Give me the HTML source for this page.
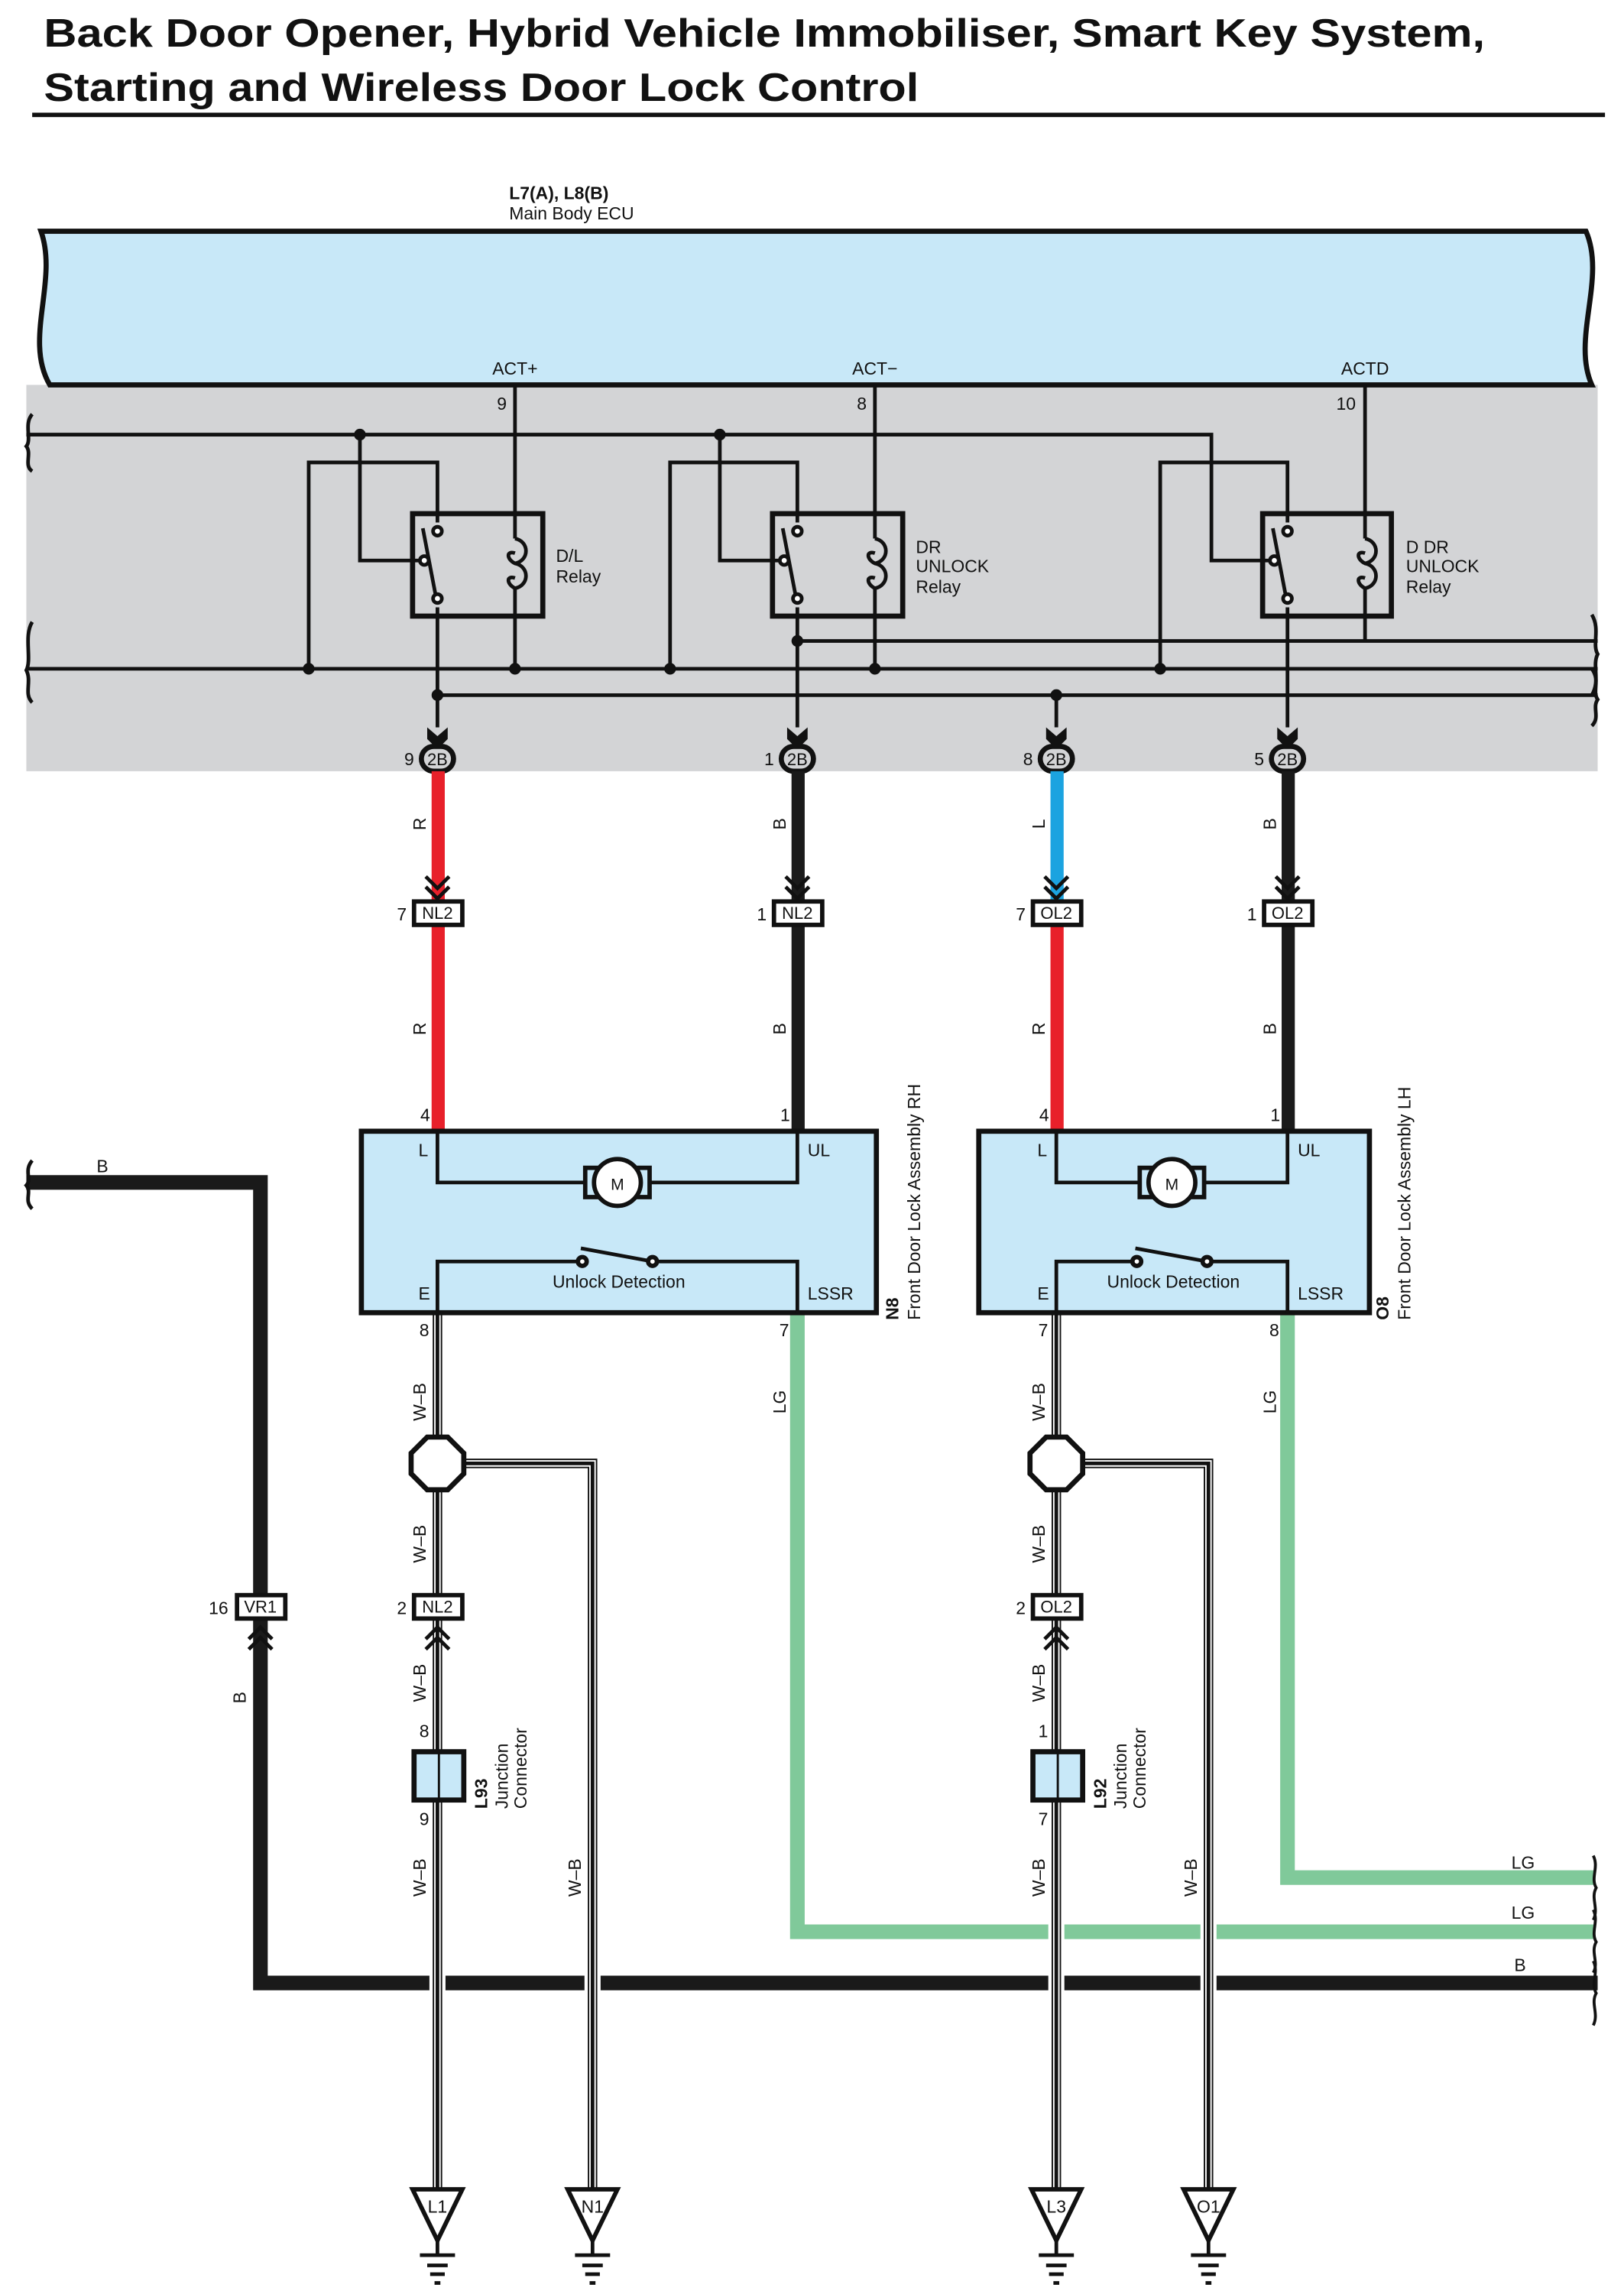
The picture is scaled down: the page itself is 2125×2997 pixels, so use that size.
<!DOCTYPE html>
<html><head><meta charset="utf-8"><style>
html,body{margin:0;padding:0;background:#fff;}
svg{display:block}
text{font-family:"Liberation Sans",sans-serif;fill:#111}
</style></head><body>
<svg width="2125" height="2997" viewBox="0 0 1110 1565.5" preserveAspectRatio="none" xmlns="http://www.w3.org/2000/svg">
<!-- Title -->
<text x="30" y="32" font-size="27" font-weight="bold" textLength="985" lengthAdjust="spacingAndGlyphs">Back Door Opener, Hybrid Vehicle Immobiliser, Smart Key System,</text>
<text x="30" y="69" font-size="27" font-weight="bold" textLength="598" lengthAdjust="spacingAndGlyphs">Starting and Wireless Door Lock Control</text>
<rect x="22" y="77" width="1075" height="3" fill="#111"/>

<!-- ECU -->
<text x="348" y="136" font-size="12" font-weight="bold">L7(A), L8(B)</text>
<text x="348" y="150" font-size="12">Main Body ECU</text>
<rect x="18" y="263" width="1074" height="264" fill="#d3d4d6"/>
<path d="M28,158 L1084,158 C1098,190 1074,232 1088,263 L34,263 C16,232 40,192 28,158 Z" fill="#c8e8f8" stroke="#111" stroke-width="3.5"/>
<text x="352" y="256" font-size="12" text-anchor="middle">ACT+</text>
<text x="598" y="256" font-size="12" text-anchor="middle">ACT−</text>
<text x="933" y="256" font-size="12" text-anchor="middle">ACTD</text>
<text x="343" y="280" font-size="12" text-anchor="middle">9</text>
<text x="589" y="280" font-size="12" text-anchor="middle">8</text>
<text x="920" y="280" font-size="12" text-anchor="middle">10</text>

<g stroke="#111" stroke-width="2.5" fill="none">
<path d="M18,297 H828 V383 H869"/>
<path d="M18,457 H1092"/>
<path d="M545,438 H1092"/>
<path d="M299,475 H1092"/>
<path d="M22,283 C16,290 22,300 18,305 C22,310 16,318 22,322"/>
<path d="M22,425 C16,435 22,450 18,458 C22,466 16,474 22,480"/>
<path d="M1088,420 C1094,430 1088,440 1092,447 C1088,455 1094,465 1088,475"/>
<path d="M1088,457 C1094,465 1088,472 1092,478 C1088,484 1094,490 1088,496"/>
<path d="M211,457 V316 H299 V357"/>
<path d="M246,297 V383 H287"/>
<path d="M352,263 V368"/><path d="M352,402 V457"/>
<path d="M299,415 V497"/>
<path d="M458,457 V316 H545 V357"/>
<path d="M492,297 V383 H533"/>
<path d="M598,263 V368"/><path d="M598,402 V457"/>
<path d="M545,415 V497"/>
<path d="M793,457 V316 H880 V357"/>
<path d="M933,263 V368"/><path d="M933,402 V438"/>
<path d="M880,415 V497"/>
<path d="M722,475 V497"/>
</g>
<g stroke="#111" stroke-width="3.5" fill="none">
<rect x="282" y="351" width="89" height="70"/>
<rect x="528" y="351" width="89" height="70"/>
<rect x="863" y="351" width="88" height="70"/>
</g>
<g stroke="#111" stroke-width="2.5" fill="none">
<path d="M289,361 L298,408"/><circle cx="299" cy="363" r="3" fill="#fff"/><circle cx="290" cy="383" r="3" fill="#fff"/><circle cx="299" cy="409" r="3" fill="#fff"/>
<path d="M535,361 L544,408"/><circle cx="545" cy="363" r="3" fill="#fff"/><circle cx="536" cy="383" r="3" fill="#fff"/><circle cx="545" cy="409" r="3" fill="#fff"/>
<path d="M870,361 L879,408"/><circle cx="880" cy="363" r="3" fill="#fff"/><circle cx="871" cy="383" r="3" fill="#fff"/><circle cx="880" cy="409" r="3" fill="#fff"/>
<path d="M352,368 C362,370 362,383 352,385 C346,382 346,376 352,378 M352,385 C362,387 362,400 352,402 C346,399 346,393 352,395"/>
<path d="M598,368 C608,370 608,383 598,385 C592,382 592,376 598,378 M598,385 C608,387 608,400 598,402 C592,399 592,393 598,395"/>
<path d="M933,368 C943,370 943,383 933,385 C927,382 927,376 933,378 M933,385 C943,387 943,400 933,402 C927,399 927,393 933,395"/>
</g>
<g font-size="12">
<text x="380" y="384">D/L</text><text x="380" y="398">Relay</text>
<text x="626" y="378">DR</text><text x="626" y="391">UNLOCK</text><text x="626" y="405">Relay</text>
<text x="961" y="378">D DR</text><text x="961" y="391">UNLOCK</text><text x="961" y="405">Relay</text>
</g>
<g fill="#111">
<circle cx="246" cy="297" r="4"/><circle cx="492" cy="297" r="4"/>
<circle cx="211" cy="457" r="4"/><circle cx="352" cy="457" r="4"/><circle cx="458" cy="457" r="4"/><circle cx="598" cy="457" r="4"/><circle cx="793" cy="457" r="4"/>
<circle cx="545" cy="438" r="4"/><circle cx="299" cy="475" r="4"/><circle cx="722" cy="475" r="4"/>
</g>
<g fill="#111">
<path d="M292,497 L299,503 L306,497 L306,505 L299,512 L292,505 Z"/>
<path d="M538,497 L545,503 L552,497 L552,505 L545,512 L538,505 Z"/>
<path d="M715,497 L722,503 L729,497 L729,505 L722,512 L715,505 Z"/>
<path d="M873,497 L880,503 L887,497 L887,505 L880,512 L873,505 Z"/>
</g>
<g stroke="#111" stroke-width="3.5" fill="#d3d4d6">
<rect x="288" y="510" width="22" height="17" rx="8.5"/>
<rect x="534" y="510" width="22" height="17" rx="8.5"/>
<rect x="711" y="510" width="22" height="17" rx="8.5"/>
<rect x="869" y="510" width="22" height="17" rx="8.5"/>
</g>
<g font-size="11.5" text-anchor="middle">
<text x="299" y="523">2B</text><text x="545" y="523">2B</text><text x="722" y="523">2B</text><text x="880" y="523">2B</text>
</g>
<g font-size="12" text-anchor="end">
<text x="283" y="523">9</text><text x="529" y="523">1</text><text x="706" y="523">8</text><text x="864" y="523">5</text>
</g>

<rect x="295" y="527" width="9" height="246" fill="#e8202a"/>
<rect x="541" y="527" width="9" height="246" fill="#1a1a1a"/>
<rect x="718" y="527" width="9" height="89" fill="#1ba3e0"/>
<rect x="718" y="632" width="9" height="141" fill="#e8202a"/>
<rect x="876" y="527" width="9" height="246" fill="#1a1a1a"/>
<g stroke="#111" stroke-width="2.5" fill="none">
<path d="M291,599 L299,607 L307,599 M291,606 L299,614 L307,606"/>
<path d="M537,599 L545,607 L553,599 M537,606 L545,614 L553,606"/>
<path d="M714,599 L722,607 L730,599 M714,606 L722,614 L730,606"/>
<path d="M872,599 L880,607 L888,599 M872,606 L880,614 L888,606"/>
</g>
<g stroke="#111" stroke-width="3" fill="#fff">
<rect x="283" y="616" width="33" height="16"/>
<rect x="529" y="616" width="33" height="16"/>
<rect x="706" y="616" width="33" height="16"/>
<rect x="864" y="616" width="33" height="16"/>
</g>
<g font-size="11.5" text-anchor="middle">
<text x="299" y="628">NL2</text><text x="545" y="628">NL2</text><text x="722" y="628">OL2</text><text x="880" y="628">OL2</text>
</g>
<g font-size="12" text-anchor="end">
<text x="278" y="629">7</text><text x="524" y="629">1</text><text x="701" y="629">7</text><text x="859" y="629">1</text>
<text x="294" y="766">4</text><text x="540" y="766">1</text><text x="717" y="766">4</text><text x="875" y="766">1</text>
</g>
<g font-size="12" text-anchor="middle">
<text transform="translate(291,563) rotate(-90)">R</text>
<text transform="translate(291,703) rotate(-90)">R</text>
<text transform="translate(537,563) rotate(-90)">B</text>
<text transform="translate(537,703) rotate(-90)">B</text>
<text transform="translate(714,563) rotate(-90)">L</text>
<text transform="translate(714,703) rotate(-90)">R</text>
<text transform="translate(872,563) rotate(-90)">B</text>
<text transform="translate(872,703) rotate(-90)">B</text>
</g>

<path d="M18,808 H178 V1355 H1092" stroke="#1a1a1a" stroke-width="10" fill="none"/>
<path d="M22,793 C16,800 22,806 18,810 C22,815 16,820 22,826" stroke="#111" stroke-width="2.5" fill="none"/>
<path d="M545,897 V1320 H1090" stroke="#80c99a" stroke-width="10" fill="none"/>
<path d="M880,897 V1283 H1090" stroke="#80c99a" stroke-width="10" fill="none"/>
<g stroke="#111" stroke-width="2" fill="none">
<path d="M1089,1268 C1093,1276 1087,1283 1091,1290 C1087,1297 1093,1304 1089,1312"/>
<path d="M1089,1305 C1093,1313 1087,1320 1091,1327 C1087,1334 1093,1341 1089,1348"/>
<path d="M1089,1340 C1093,1348 1087,1355 1091,1362 C1087,1369 1093,1376 1089,1384"/>
</g>
<g font-size="12">
<text x="66" y="801">B</text>
<text x="1033" y="1277">LG</text><text x="1033" y="1311">LG</text><text x="1035" y="1347">B</text>
<text transform="translate(168,1160) rotate(-90)" text-anchor="middle">B</text>
</g>

<g fill="none">
<path d="M299,897 V1500 M722,897 V1500 M317,1000 H405 V1500 M740,1000 H826 V1500" stroke="#fff" stroke-width="11"/>
<path d="M299,897 V1500 M722,897 V1500 M317,1000 H405 V1500 M740,1000 H826 V1500" stroke="#111" stroke-width="6.5"/>
<path d="M299,897 V1500 M722,897 V1500 M317,1000 H405 V1500 M740,1000 H826 V1500" stroke="#fff" stroke-width="4.5"/>
<path d="M299,897 V1500 M722,897 V1500 M317,1000 H405 V1500 M740,1000 H826 V1500" stroke="#111" stroke-width="2.5"/>
</g>

<g stroke="#111" stroke-width="3.5" fill="#c8e8f8">
<rect x="247" y="773" width="352" height="124"/>
<rect x="669" y="773" width="267" height="124"/>
</g>
<g stroke="#111" stroke-width="2.5" fill="none">
<path d="M299,773 V808 H400 M444,808 H545 V773"/>
<path d="M299,897 V862 H395 M449,862 H545 V897"/>
<path d="M397,853 L446,862"/>
<path d="M722,773 V808 H779 M823,808 H880 V773"/>
<path d="M722,897 V862 H774 M828,862 H880 V897"/>
<path d="M776,853 L825,862"/>
</g>
<g stroke="#111" stroke-width="3" fill="#fff">
<rect x="400" y="798" width="44" height="20" fill="#c8e8f8"/>
<circle cx="422" cy="808" r="16"/>
<circle cx="398" cy="862" r="3"/><circle cx="446" cy="862" r="3"/>
<rect x="779" y="798" width="44" height="20" fill="#c8e8f8"/>
<circle cx="801" cy="808" r="16"/>
<circle cx="777" cy="862" r="3"/><circle cx="825" cy="862" r="3"/>
</g>
<g font-size="12">
<text x="422" y="813" text-anchor="middle" font-size="11">M</text>
<text x="801" y="813" text-anchor="middle" font-size="11">M</text>
<text x="286" y="790">L</text><text x="552" y="790">UL</text><text x="286" y="888">E</text><text x="552" y="888">LSSR</text>
<text x="709" y="790">L</text><text x="887" y="790">UL</text><text x="709" y="888">E</text><text x="887" y="888">LSSR</text>
<text x="423" y="880" text-anchor="middle">Unlock Detection</text>
<text x="802" y="880" text-anchor="middle">Unlock Detection</text>
<text x="290" y="913" text-anchor="middle">8</text><text x="536" y="913" text-anchor="middle">7</text>
<text x="713" y="913" text-anchor="middle">7</text><text x="871" y="913" text-anchor="middle">8</text>
<text transform="translate(614,902) rotate(-90)" font-weight="bold">N8</text>
<text transform="translate(629,902) rotate(-90)">Front Door Lock Assembly RH</text>
<text transform="translate(949,902) rotate(-90)" font-weight="bold">O8</text>
<text transform="translate(964,902) rotate(-90)">Front Door Lock Assembly LH</text>
<text transform="translate(537,958) rotate(-90)" text-anchor="middle">LG</text>
<text transform="translate(872,958) rotate(-90)" text-anchor="middle">LG</text>
</g>
<g font-size="12" text-anchor="middle">
<text transform="translate(291,958) rotate(-90)">W–B</text>
<text transform="translate(291,1055) rotate(-90)">W–B</text>
<text transform="translate(291,1150) rotate(-90)">W–B</text>
<text transform="translate(291,1283) rotate(-90)">W–B</text>
<text transform="translate(397,1283) rotate(-90)">W–B</text>
<text transform="translate(714,958) rotate(-90)">W–B</text>
<text transform="translate(714,1055) rotate(-90)">W–B</text>
<text transform="translate(714,1150) rotate(-90)">W–B</text>
<text transform="translate(714,1283) rotate(-90)">W–B</text>
<text transform="translate(818,1283) rotate(-90)">W–B</text>
</g>
<g stroke="#111" stroke-width="3.5" fill="#fff">
<polygon points="292,982 306,982 317,993 317,1007 306,1018 292,1018 281,1007 281,993"/>
<polygon points="715,982 729,982 740,993 740,1007 729,1018 715,1018 704,1007 704,993"/>
</g>
<g stroke="#111" stroke-width="2.5" fill="none">
<path d="M170,1120 L178,1112 L186,1120 M170,1127 L178,1119 L186,1127"/>
<path d="M291,1120 L299,1112 L307,1120 M291,1127 L299,1119 L307,1127"/>
<path d="M714,1120 L722,1112 L730,1120 M714,1127 L722,1119 L730,1127"/>
</g>
<g stroke="#111" stroke-width="3" fill="#fff">
<rect x="162" y="1090" width="33" height="16"/>
<rect x="283" y="1090" width="33" height="16"/>
<rect x="706" y="1090" width="33" height="16"/>
</g>
<g font-size="11.5" text-anchor="middle">
<text x="178" y="1102">VR1</text><text x="299" y="1102">NL2</text><text x="722" y="1102">OL2</text>
</g>
<g font-size="12" text-anchor="end">
<text x="156" y="1103">16</text><text x="278" y="1103">2</text><text x="701" y="1103">2</text>
</g>
<g stroke="#111" stroke-width="3.5" fill="#c8e8f8">
<rect x="283" y="1197" width="34" height="33"/>
<rect x="706" y="1197" width="34" height="33"/>
</g>
<g stroke="#111" stroke-width="1.5"><path d="M300,1197 V1230 M723,1197 V1230"/></g>
<g font-size="12">
<text x="290" y="1187" text-anchor="middle">8</text><text x="290" y="1247" text-anchor="middle">9</text>
<text x="713" y="1187" text-anchor="middle">1</text><text x="713" y="1247" text-anchor="middle">7</text>
<text transform="translate(333,1236) rotate(-90)" font-weight="bold">L93</text>
<text transform="translate(347,1236) rotate(-90)">Junction</text>
<text transform="translate(360,1236) rotate(-90)">Connector</text>
<text transform="translate(756,1236) rotate(-90)" font-weight="bold">L92</text>
<text transform="translate(770,1236) rotate(-90)">Junction</text>
<text transform="translate(783,1236) rotate(-90)">Connector</text>
</g>
<g stroke="#111" fill="#fff" stroke-width="3">
<polygon points="282,1496 316,1496 299,1531"/>
<polygon points="388,1496 422,1496 405,1531"/>
<polygon points="705,1496 739,1496 722,1531"/>
<polygon points="809,1496 843,1496 826,1531"/>
</g>
<g stroke="#111" stroke-width="2.5">
<path d="M299,1531 V1541 M405,1531 V1541 M722,1531 V1541 M826,1531 V1541"/>
<path d="M287,1541 H311 M393,1541 H417 M710,1541 H734 M814,1541 H838"/>
<path d="M292,1548 H306 M398,1548 H412 M715,1548 H729 M819,1548 H833"/>
<path d="M294,1554 H304 M400,1554 H410 M717,1554 H727 M821,1554 H831"/>
<path d="M297,1560 H301 M403,1560 H407 M720,1560 H724 M824,1560 H828"/>
</g>
<g font-size="12" text-anchor="middle">
<text x="299" y="1512">L1</text><text x="405" y="1512">N1</text><text x="722" y="1512">L3</text><text x="826" y="1512">O1</text>
</g>
</svg>
</body></html>
